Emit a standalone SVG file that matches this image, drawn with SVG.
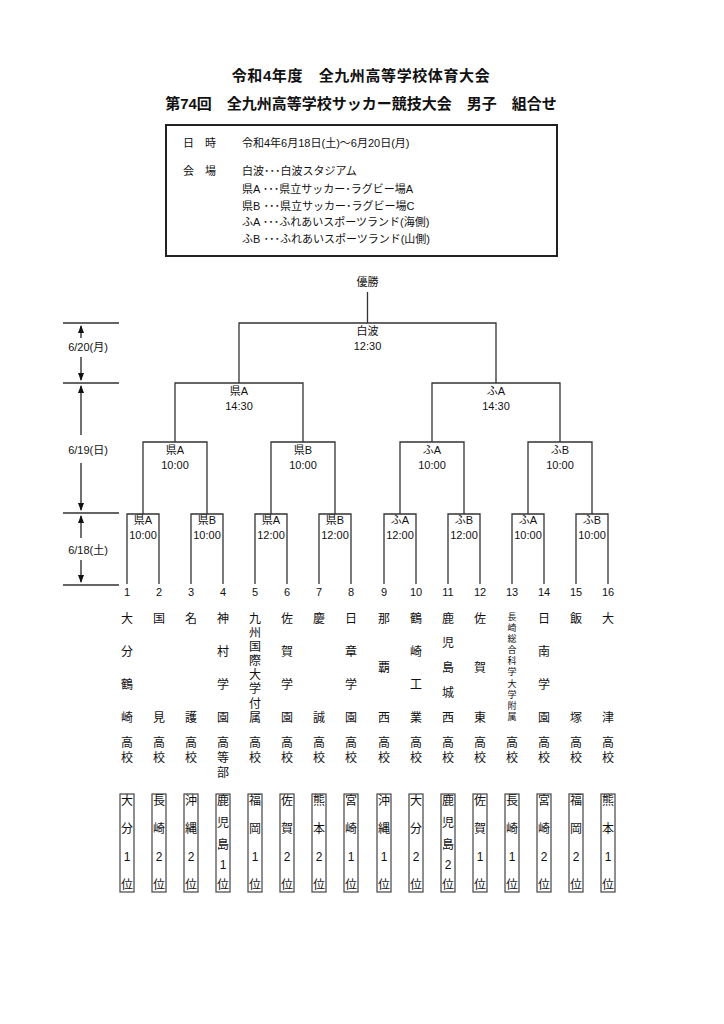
<svg xmlns="http://www.w3.org/2000/svg" width="724" height="1024" viewBox="0 0 724 1024">
<style>
.t{font-family:"Liberation Sans","Noto Sans CJK JP",sans-serif;fill:#111;dominant-baseline:central;text-anchor:middle}
.l{text-anchor:start}
.title{font-size:15px;font-weight:bold}
.s11{font-size:11px}
.nm{font-size:12px}
.sm{font-size:9px}
.ln{stroke:#333;stroke-width:1.3;fill:none}
.ar{stroke:#111;stroke-width:1.2;fill:none;marker-end:url(#ah)}
.bx{stroke:#444;stroke-width:1.2;fill:#fff}
</style>
<defs>
<marker id="ah" viewBox="0 0 8 8" refX="7" refY="4" markerWidth="8" markerHeight="8" markerUnits="userSpaceOnUse" orient="auto">
<path d="M0,1 L8,4 L0,7 Z" fill="#111"/>
</marker>
</defs>
<rect width="724" height="1024" fill="#fff"/>

<g id="title">
<text class="t title" x="361" y="75" letter-spacing="0.6">令和4年度　全九州高等学校体育大会</text>
<text class="t title" x="361" y="103">第74回　全九州高等学校サッカー競技大会　男子　組合せ</text>
</g>

<g id="info">
<rect x="166" y="125" width="391" height="131" fill="none" stroke="#222" stroke-width="2"/>
<text class="t s11 l" x="183" y="143">日　時</text>
<text class="t s11 l" x="242" y="143">令和4年6月18日(土)～6月20日(月)</text>
<text class="t s11 l" x="183" y="171">会　場</text>
<text class="t s11 l" x="242" y="171">白波･･･白波スタジアム</text>
<text class="t s11 l" x="242" y="189">県A ･･･県立サッカー･ラグビー場A</text>
<text class="t s11 l" x="242" y="206">県B ･･･県立サッカー･ラグビー場C</text>
<text class="t s11 l" x="242" y="222">ふA ･･･ふれあいスポーツランド(海側)</text>
<text class="t s11 l" x="242" y="239">ふB ･･･ふれあいスポーツランド(山側)</text>
</g>

<g id="dates">
<path class="ln" d="M63,323H119M63,383H119M63,513H119M63,585H119"/>
<path class="ar" d="M81,338V326"/>
<path class="ar" d="M81,357V380"/>
<path class="ar" d="M81,435V386"/>
<path class="ar" d="M81,463V510"/>
<path class="ar" d="M81,538V516"/>
<path class="ar" d="M81,560V582"/>
<text class="t s11" x="88" y="347">6/20(月)</text>
<text class="t s11" x="88" y="450">6/19(日)</text>
<text class="t s11" x="88" y="550">6/18(土)</text>
</g>

<g id="connectors">
<path class="ln" d="M367.5,292V323M239,383V323H496V383"/>
<path class="ln" d="M175,442V383H303V442M432,442V383H560V442"/>
<path class="ln" d="M143,514V442H207V514M271,514V442H335V514M400,514V442H464V514M528,514V442H592V514"/>
<path class="ln" d="M127,584V514H159V584M191,584V514H223V584M255,584V514H287V584M319,584V514H351V584M384,584V514H416V584M448,584V514H480V584M512,584V514H544V584M576,584V514H608V584"/>
</g>

<g id="final">
<text class="t s11" x="367.5" y="282">優勝</text>
<text class="t s11" x="367.5" y="331">白波</text>
<text class="t s11" x="367.5" y="346">12:30</text>
</g>
<g id="semis">
<text class="t s11" x="239" y="391">県A</text>
<text class="t s11" x="239" y="406">14:30</text>
<text class="t s11" x="496" y="391">ふA</text>
<text class="t s11" x="496" y="406">14:30</text>
</g>
<g id="quarters">
<text class="t s11" x="175" y="450">県A</text><text class="t s11" x="175" y="465">10:00</text>
<text class="t s11" x="303" y="450">県B</text><text class="t s11" x="303" y="465">10:00</text>
<text class="t s11" x="432" y="450">ふA</text><text class="t s11" x="432" y="465">10:00</text>
<text class="t s11" x="560" y="450">ふB</text><text class="t s11" x="560" y="465">10:00</text>
</g>
<g id="round1">
<text class="t s11" x="143" y="520">県A</text><text class="t s11" x="143" y="535">10:00</text>
<text class="t s11" x="207" y="520">県B</text><text class="t s11" x="207" y="535">10:00</text>
<text class="t s11" x="271" y="520">県A</text><text class="t s11" x="271" y="535">12:00</text>
<text class="t s11" x="335" y="520">県B</text><text class="t s11" x="335" y="535">12:00</text>
<text class="t s11" x="400" y="520">ふA</text><text class="t s11" x="400" y="535">12:00</text>
<text class="t s11" x="464" y="520">ふB</text><text class="t s11" x="464" y="535">12:00</text>
<text class="t s11" x="528" y="520">ふA</text><text class="t s11" x="528" y="535">10:00</text>
<text class="t s11" x="592" y="520">ふB</text><text class="t s11" x="592" y="535">10:00</text>
</g>

<g id="numbers">
<text class="t s11" x="127" y="592">1</text>
<text class="t s11" x="159" y="592">2</text>
<text class="t s11" x="191" y="592">3</text>
<text class="t s11" x="223" y="592">4</text>
<text class="t s11" x="255" y="592">5</text>
<text class="t s11" x="287" y="592">6</text>
<text class="t s11" x="319" y="592">7</text>
<text class="t s11" x="351" y="592">8</text>
<text class="t s11" x="384" y="592">9</text>
<text class="t s11" x="416" y="592">10</text>
<text class="t s11" x="448" y="592">11</text>
<text class="t s11" x="480" y="592">12</text>
<text class="t s11" x="512" y="592">13</text>
<text class="t s11" x="544" y="592">14</text>
<text class="t s11" x="576" y="592">15</text>
<text class="t s11" x="608" y="592">16</text>
</g>

<g id="team1"><text class="t nm"><tspan x="127" y="619">大</tspan><tspan x="127" y="652">分</tspan><tspan x="127" y="685">鶴</tspan><tspan x="127" y="718">崎</tspan><tspan x="127" y="743">高</tspan><tspan x="127" y="758">校</tspan></text>
<rect class="bx" x="120" y="794" width="14" height="98"/><text class="t nm"><tspan x="127" y="801">大</tspan><tspan x="127" y="829">分</tspan><tspan x="127" y="857">1</tspan><tspan x="127" y="885">位</tspan></text></g>
<g id="team2"><text class="t nm"><tspan x="159" y="619">国</tspan><tspan x="159" y="718">見</tspan><tspan x="159" y="743">高</tspan><tspan x="159" y="758">校</tspan></text>
<rect class="bx" x="152" y="794" width="14" height="98"/><text class="t nm"><tspan x="159" y="801">長</tspan><tspan x="159" y="829">崎</tspan><tspan x="159" y="857">2</tspan><tspan x="159" y="885">位</tspan></text></g>
<g id="team3"><text class="t nm"><tspan x="191" y="619">名</tspan><tspan x="191" y="718">護</tspan><tspan x="191" y="743">高</tspan><tspan x="191" y="758">校</tspan></text>
<rect class="bx" x="184" y="794" width="14" height="98"/><text class="t nm"><tspan x="191" y="801">沖</tspan><tspan x="191" y="829">縄</tspan><tspan x="191" y="857">2</tspan><tspan x="191" y="885">位</tspan></text></g>
<g id="team4"><text class="t nm"><tspan x="223" y="619">神</tspan><tspan x="223" y="652">村</tspan><tspan x="223" y="685">学</tspan><tspan x="223" y="718">園</tspan><tspan x="223" y="743">高</tspan><tspan x="223" y="758">等</tspan><tspan x="223" y="773">部</tspan></text>
<rect class="bx" x="216" y="794" width="14" height="98"/><text class="t nm"><tspan x="223" y="801">鹿</tspan><tspan x="223" y="823">児</tspan><tspan x="223" y="845">島</tspan><tspan x="223" y="865">1</tspan><tspan x="223" y="885">位</tspan></text></g>
<g id="team5"><text class="t nm"><tspan x="255" y="619">九</tspan><tspan x="255" y="633">州</tspan><tspan x="255" y="647">国</tspan><tspan x="255" y="661">際</tspan><tspan x="255" y="675">大</tspan><tspan x="255" y="689">学</tspan><tspan x="255" y="704">付</tspan><tspan x="255" y="718">属</tspan><tspan x="255" y="743">高</tspan><tspan x="255" y="758">校</tspan></text>
<rect class="bx" x="248" y="794" width="14" height="98"/><text class="t nm"><tspan x="255" y="801">福</tspan><tspan x="255" y="829">岡</tspan><tspan x="255" y="857">1</tspan><tspan x="255" y="885">位</tspan></text></g>
<g id="team6"><text class="t nm"><tspan x="287" y="619">佐</tspan><tspan x="287" y="652">賀</tspan><tspan x="287" y="685">学</tspan><tspan x="287" y="718">園</tspan><tspan x="287" y="743">高</tspan><tspan x="287" y="758">校</tspan></text>
<rect class="bx" x="280" y="794" width="14" height="98"/><text class="t nm"><tspan x="287" y="801">佐</tspan><tspan x="287" y="829">賀</tspan><tspan x="287" y="857">2</tspan><tspan x="287" y="885">位</tspan></text></g>
<g id="team7"><text class="t nm"><tspan x="319" y="619">慶</tspan><tspan x="319" y="718">誠</tspan><tspan x="319" y="743">高</tspan><tspan x="319" y="758">校</tspan></text>
<rect class="bx" x="312" y="794" width="14" height="98"/><text class="t nm"><tspan x="319" y="801">熊</tspan><tspan x="319" y="829">本</tspan><tspan x="319" y="857">2</tspan><tspan x="319" y="885">位</tspan></text></g>
<g id="team8"><text class="t nm"><tspan x="351" y="619">日</tspan><tspan x="351" y="652">章</tspan><tspan x="351" y="685">学</tspan><tspan x="351" y="718">園</tspan><tspan x="351" y="743">高</tspan><tspan x="351" y="758">校</tspan></text>
<rect class="bx" x="344" y="794" width="14" height="98"/><text class="t nm"><tspan x="351" y="801">宮</tspan><tspan x="351" y="829">崎</tspan><tspan x="351" y="857">1</tspan><tspan x="351" y="885">位</tspan></text></g>
<g id="team9"><text class="t nm"><tspan x="384" y="619">那</tspan><tspan x="384" y="668">覇</tspan><tspan x="384" y="718">西</tspan><tspan x="384" y="743">高</tspan><tspan x="384" y="758">校</tspan></text>
<rect class="bx" x="377" y="794" width="14" height="98"/><text class="t nm"><tspan x="384" y="801">沖</tspan><tspan x="384" y="829">縄</tspan><tspan x="384" y="857">1</tspan><tspan x="384" y="885">位</tspan></text></g>
<g id="team10"><text class="t nm"><tspan x="416" y="619">鶴</tspan><tspan x="416" y="652">崎</tspan><tspan x="416" y="685">工</tspan><tspan x="416" y="718">業</tspan><tspan x="416" y="743">高</tspan><tspan x="416" y="758">校</tspan></text>
<rect class="bx" x="409" y="794" width="14" height="98"/><text class="t nm"><tspan x="416" y="801">大</tspan><tspan x="416" y="829">分</tspan><tspan x="416" y="857">2</tspan><tspan x="416" y="885">位</tspan></text></g>
<g id="team11"><text class="t nm"><tspan x="448" y="619">鹿</tspan><tspan x="448" y="643">児</tspan><tspan x="448" y="668">島</tspan><tspan x="448" y="693">城</tspan><tspan x="448" y="718">西</tspan><tspan x="448" y="743">高</tspan><tspan x="448" y="758">校</tspan></text>
<rect class="bx" x="441" y="794" width="14" height="98"/><text class="t nm"><tspan x="448" y="801">鹿</tspan><tspan x="448" y="823">児</tspan><tspan x="448" y="845">島</tspan><tspan x="448" y="865">2</tspan><tspan x="448" y="885">位</tspan></text></g>
<g id="team12"><text class="t nm"><tspan x="480" y="619">佐</tspan><tspan x="480" y="668">賀</tspan><tspan x="480" y="718">東</tspan><tspan x="480" y="743">高</tspan><tspan x="480" y="758">校</tspan></text>
<rect class="bx" x="473" y="794" width="14" height="98"/><text class="t nm"><tspan x="480" y="801">佐</tspan><tspan x="480" y="829">賀</tspan><tspan x="480" y="857">1</tspan><tspan x="480" y="885">位</tspan></text></g>
<g id="team13"><text class="t sm"><tspan x="512" y="617">長</tspan><tspan x="512" y="628">崎</tspan><tspan x="512" y="639">総</tspan><tspan x="512" y="650">合</tspan><tspan x="512" y="661">科</tspan><tspan x="512" y="672">学</tspan><tspan x="512" y="684">大</tspan><tspan x="512" y="695">学</tspan><tspan x="512" y="706">附</tspan><tspan x="512" y="717">属</tspan></text><text class="t nm"><tspan x="512" y="743">高</tspan><tspan x="512" y="758">校</tspan></text>
<rect class="bx" x="505" y="794" width="14" height="98"/><text class="t nm"><tspan x="512" y="801">長</tspan><tspan x="512" y="829">崎</tspan><tspan x="512" y="857">1</tspan><tspan x="512" y="885">位</tspan></text></g>
<g id="team14"><text class="t nm"><tspan x="544" y="619">日</tspan><tspan x="544" y="652">南</tspan><tspan x="544" y="685">学</tspan><tspan x="544" y="718">園</tspan><tspan x="544" y="743">高</tspan><tspan x="544" y="758">校</tspan></text>
<rect class="bx" x="537" y="794" width="14" height="98"/><text class="t nm"><tspan x="544" y="801">宮</tspan><tspan x="544" y="829">崎</tspan><tspan x="544" y="857">2</tspan><tspan x="544" y="885">位</tspan></text></g>
<g id="team15"><text class="t nm"><tspan x="576" y="619">飯</tspan><tspan x="576" y="718">塚</tspan><tspan x="576" y="743">高</tspan><tspan x="576" y="758">校</tspan></text>
<rect class="bx" x="569" y="794" width="14" height="98"/><text class="t nm"><tspan x="576" y="801">福</tspan><tspan x="576" y="829">岡</tspan><tspan x="576" y="857">2</tspan><tspan x="576" y="885">位</tspan></text></g>
<g id="team16"><text class="t nm"><tspan x="608" y="619">大</tspan><tspan x="608" y="718">津</tspan><tspan x="608" y="743">高</tspan><tspan x="608" y="758">校</tspan></text>
<rect class="bx" x="601" y="794" width="14" height="98"/><text class="t nm"><tspan x="608" y="801">熊</tspan><tspan x="608" y="829">本</tspan><tspan x="608" y="857">1</tspan><tspan x="608" y="885">位</tspan></text></g>
</svg>
